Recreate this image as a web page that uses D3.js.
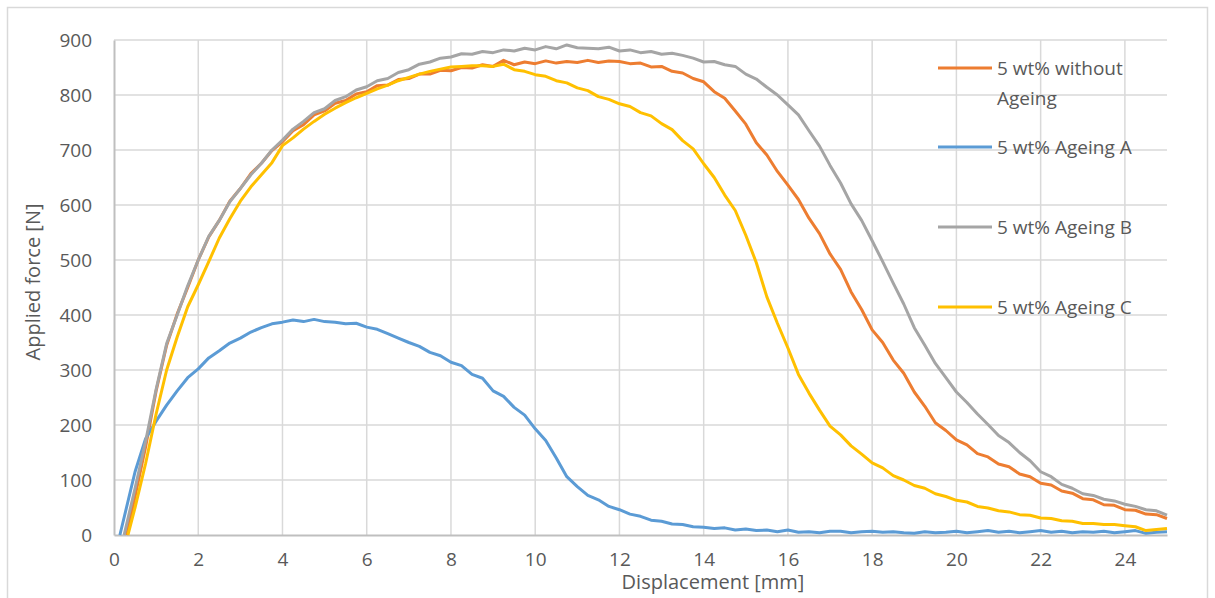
<!DOCTYPE html>
<html>
<head>
<meta charset="utf-8">
<script src="https://cdn.jsdelivr.net/npm/d3@7"></script>
<style>
  body { margin: 0; background: #fff; }
  svg { display: block; font-family: 'Open Sans', sans-serif; }
</style>
</head>
<body>
<svg width="1215" height="598"></svg>
<script>
// displacement grid (mm), one value every 0.25 mm
const displacement = d3.range(0, 25.001, 0.25);
const xTicks = [0, 2, 4, 6, 8, 10, 12, 14, 16, 18, 20, 22, 24];
const yTicks = [0, 100, 200, 300, 400, 500, 600, 700, 800, 900];

const seriesNames = ['5 wt% without Ageing', '5 wt% Ageing A', '5 wt% Ageing B', '5 wt% Ageing C'];
const seriesColors = ['#ED7D31', '#5B9BD5', '#A5A5A5', '#FFC000'];
// displacement where each curve leaves the x axis
const onset = [0.3, 0.14, 0.24, 0.33];

// force [N] at each displacement step (null = before onset), 16 values per row = 4 mm
const withoutAgeing = [null, null, 70, 160, 262, 345, 402, 450, 500, 542, 572, 607, 630, 657, 676, 699,
  715, 735, 746, 764, 771, 785, 790, 802, 806, 817, 818, 828, 830, 838, 838, 845,
  844, 850, 849, 855, 852, 863, 855, 860, 857, 862, 858, 861, 859, 863, 859, 862,
  861, 857, 858, 851, 852, 843, 840, 830, 824, 806, 794, 771, 747, 713, 691, 661,
  636, 610, 576, 548, 511, 483, 442, 410, 373, 350, 318, 294, 260, 234, 204, 190,
  173, 164, 148, 142, 129, 124, 111, 106, 94, 91, 80, 76, 66, 64, 55, 54,
  46, 45, 38, 37, 30];
const ageingA = [null, 35, 115, 175, 207, 236, 262, 286, 302, 322, 335, 349, 358, 369, 377, 384,
  387, 391, 388, 392, 388, 387, 384, 385, 378, 374, 366, 358, 350, 343, 332, 326,
  314, 308, 292, 285, 262, 252, 232, 218, 193, 172, 140, 106, 88, 72, 64, 52,
  46, 38, 34, 27, 25, 20, 19, 15, 14, 12, 13, 9, 11, 8, 9, 6,
  9, 5, 6, 4, 7, 7, 4, 6, 7, 5, 6, 4, 3, 6, 4, 5,
  7, 4, 6, 8, 5, 7, 4, 6, 8, 5, 7, 4, 6, 5, 7, 4,
  6, 8, 3, 5, 6];
const ageingB = [null, 3, 85, 170, 265, 348, 400, 453, 500, 543, 572, 606, 630, 655, 676, 700,
  718, 738, 752, 768, 775, 790, 797, 809, 815, 826, 830, 841, 846, 856, 860, 867,
  869, 875, 874, 879, 877, 882, 880, 885, 882, 888, 884, 891, 886, 885, 884, 887,
  880, 882, 877, 879, 874, 876, 872, 867, 860, 861, 855, 852, 838, 829, 814, 800,
  782, 764, 735, 707, 672, 640, 602, 572, 535, 497, 458, 420, 377, 345, 312, 286,
  260, 241, 220, 201, 181, 168, 150, 135, 115, 106, 92, 85, 75, 72, 65, 62,
  56, 52, 46, 44, 36];
const ageingC = [null, null, 50, 130, 220, 300, 360, 415, 455, 497, 540, 575, 607, 633, 655, 677,
  708, 722, 738, 752, 765, 776, 786, 795, 803, 811, 818, 826, 832, 838, 843, 847,
  851, 852, 853, 853, 852, 856, 846, 843, 837, 834, 826, 822, 813, 808, 797, 792,
  784, 779, 768, 762, 748, 737, 717, 702, 675, 650, 618, 590, 545, 495, 433, 385,
  340, 292, 258, 227, 198, 182, 162, 147, 131, 122, 108, 100, 90, 85, 75, 70,
  63, 60, 52, 49, 44, 42, 37, 36, 31, 30, 26, 25, 21, 21, 19, 19,
  17, 15, 8, 10, 12];

const seriesValues = [withoutAgeing, ageingA, ageingB, ageingC];

const svg = d3.select('svg');
const margin = { left: 114, right: 1167, top: 40, bottom: 535 };

const x = d3.scaleLinear().domain([0, 25]).range([margin.left, margin.right]);
const y = d3.scaleLinear().domain([0, 900]).range([margin.bottom, margin.top]);

// chart border
svg.append('rect')
  .attr('x', 7.5).attr('y', 7.5).attr('width', 1200).attr('height', 600)
  .attr('fill', 'none').attr('stroke', '#d9d9d9').attr('stroke-width', 1.5);

// gridlines
svg.append('g').selectAll('line').data(yTicks.slice(1)).join('line')
  .attr('x1', margin.left).attr('x2', margin.right)
  .attr('y1', d => y(d)).attr('y2', d => y(d))
  .attr('stroke', '#d9d9d9').attr('stroke-width', 1.5);
svg.append('g').selectAll('line').data(xTicks.slice(1)).join('line')
  .attr('x1', d => x(d)).attr('x2', d => x(d))
  .attr('y1', margin.top).attr('y2', margin.bottom)
  .attr('stroke', '#d9d9d9').attr('stroke-width', 1.5);

// axes
const xAxis = svg.append('g')
  .attr('transform', 'translate(0,' + margin.bottom + ')')
  .call(d3.axisBottom(x).tickValues(xTicks).tickSize(0).tickPadding(18));
const yAxis = svg.append('g')
  .attr('transform', 'translate(' + margin.left + ',0)')
  .call(d3.axisLeft(y).tickValues(yTicks).tickSize(0).tickPadding(22));
[xAxis, yAxis].forEach(function(axis) {
  axis.select('.domain').attr('stroke', '#bfbfbf').attr('stroke-width', 2);
  axis.selectAll('text').attr('fill', '#595959').style('font-size', '19px')
    .style('font-family', "'Open Sans', sans-serif");
});

// curves
const line = d3.line()
  .defined(d => d[1] !== null)
  .x(d => x(d[0])).y(d => y(d[1]));

seriesValues.forEach(function(values, i) {
  const points = [[onset[i], 0]].concat(
    displacement.map((d, j) => [d, values[j]]).filter(p => p[1] !== null && p[0] > onset[i]));
  svg.append('path')
    .datum(points)
    .attr('fill', 'none')
    .attr('stroke', seriesColors[i])
    .attr('stroke-width', 3)
    .attr('stroke-linejoin', 'round')
    .attr('d', line);
});

// axis titles
svg.append('text')
  .attr('x', 713).attr('y', 589)
  .attr('text-anchor', 'middle')
  .attr('fill', '#595959').style('font-size', '20px')
  .text('Displacement [mm]');
svg.append('text')
  .attr('transform', 'translate(40,282) rotate(-90)')
  .attr('text-anchor', 'middle')
  .attr('fill', '#595959').style('font-size', '20px')
  .text('Applied force [N]');

// legend
const legendY = [68, 147, 227, 307];
const legend = svg.append('g').selectAll('g').data(seriesNames).join('g')
  .attr('transform', (d, i) => 'translate(938,' + legendY[i] + ')');
legend.append('line')
  .attr('x1', 0).attr('x2', 54)
  .attr('stroke', (d, i) => seriesColors[i]).attr('stroke-width', 3);
legend.append('text')
  .attr('x', 59).attr('dy', '0.35em')
  .attr('fill', '#595959').style('font-size', '19px')
  .each(function(d) {
    const el = d3.select(this);
    if (d === '5 wt% without Ageing') {
      el.append('tspan').attr('x', 59).text('5 wt% without');
      el.append('tspan').attr('x', 59).attr('dy', 30).text('Ageing');
    } else {
      el.text(d);
    }
  });
</script>
</body>
</html>
